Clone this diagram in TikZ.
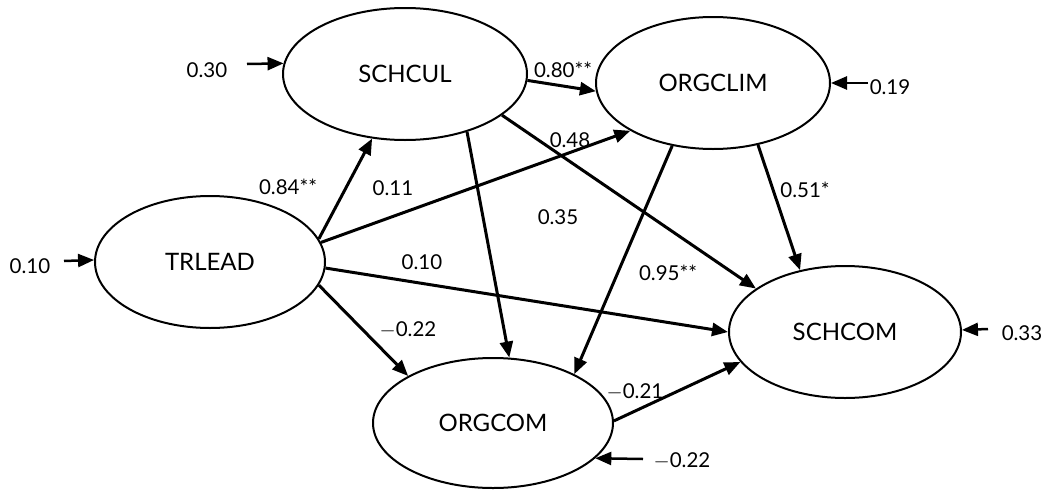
\documentclass[tikz,border=0pt]{standalone}
\usepackage{fontspec}
\setmainfont{Lato}
\usepackage{tikz}
\usetikzlibrary{positioning,shapes.geometric,arrows.meta}

\begin{document}
\begin{tikzpicture}[%
    x=1pt,
    y=-1pt,
    >={Triangle[length=16pt,width=13pt]},
    latent/.style={%
      ellipse,
      draw,
      line width=2pt,
      inner sep=0pt,
      font=\fontsize{24}{28}\selectfont
    },
    path/.style={%
      ->,
      line width=3pt
    },
    err/.style={%
      ->,
      line width=2.5pt
    },
    coef/.style={%
      inner sep=0pt,
      font=\fontsize{20.5}{24}\selectfont
    }
  ]
    \useasboundingbox (0,0) rectangle (1045,490);

    \node[latent, minimum width=230pt, minimum height=132pt] (trlead) at (210,262) {TRLEAD};
    \node[latent, minimum width=244pt, minimum height=132pt] (schcul) at (405,74) {SCHCUL};
    \node[latent, minimum width=234pt, minimum height=132pt] (orgclim) at (713,83) {ORGCLIM};
    \node[latent, minimum width=232pt, minimum height=132pt] (schcom) at (845,332) {SCHCOM};
    \node[latent, minimum width=240pt, minimum height=130pt] (orgcom) at (493,423) {ORGCOM};

    % residuals
    \coordinate (e1) at (64,261);
    \coordinate (e2) at (247,64);
    \coordinate (e3) at (868,83);
    \coordinate (e4) at (988,329);
    \coordinate (e5) at (643,459);
    \node[coef] (r1) at (30,266) {0.10};
    \node[coef] (r2) at (207,70) {0.30};
    \node[coef] (r3) at (890,87) {0.19};
    \node[coef] (r4) at (1022,333) {0.33};
    \node[coef] (r5) at (682,461) {$-$0.22};

    \path (e1) edge[err] (trlead.179)
          (e2) edge[err] (schcul.175.3)
          (e3) edge[err] (orgclim.0)
          (e4) edge[err] (schcom.1.5)
          (e5) edge[err] (orgcom.-19.8);

    % structural paths
    \path (trlead.12) edge[path] (schcul.243)
          (schcul.-3) edge[path] (orgclim.184)
          (trlead.10) edge[path] (orgclim.210)
          (schcul.-23) edge[path] (schcom.154)
          (schcul.-43) edge[path] (orgcom.76)
          (orgclim.237) edge[path] (orgcom.31)
          (orgclim.-54) edge[path] (schcom.126)
          (trlead.-3) edge[path] (schcom.180)
          (trlead.-12) edge[path] (orgcom.151)
          (orgcom.1) edge[path] (schcom.196);

    \node[coef] (c1) at (288,187) {0.84**};
    \node[coef] (c2) at (563,70) {0.80**};
    \node[coef] (c3) at (393,188) {0.11};
    \node[coef] (c4) at (570,140) {0.48};
    \node[coef] (c5) at (558,217) {0.35};
    \node[coef] (c6) at (668,273) {0.95**};
    \node[coef] (c7) at (805,190) {0.51*};
    \node[coef] (c8) at (422,262) {0.10};
    \node[coef] (c9) at (408,330) {$-$0.22};
    \node[coef] (c10) at (635,392) {$-$0.21};
\end{tikzpicture}
\end{document}
